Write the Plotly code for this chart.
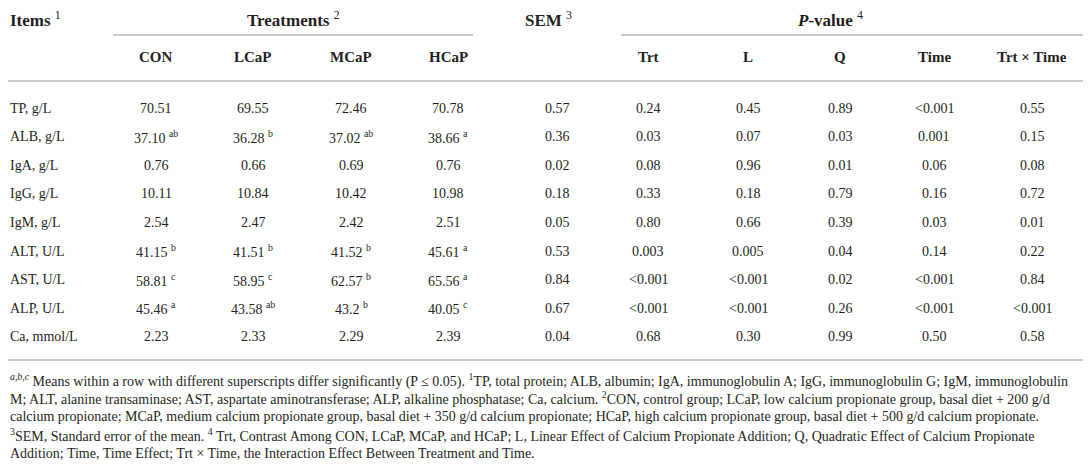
import plotly.graph_objects as go

# ---- table data ----
items = ["TP, g/L", "ALB, g/L", "IgA, g/L", "IgG, g/L", "IgM, g/L",
         "ALT, U/L", "AST, U/L", "ALP, U/L", "Ca, mmol/L"]

con = ["70.51", "37.10", "0.76", "10.11", "2.54", "41.15", "58.81", "45.46", "2.23"]
con_sup = ["", "ab", "", "", "", "b", "c", "a", ""]
lcap = ["69.55", "36.28", "0.66", "10.84", "2.47", "41.51", "58.95", "43.58", "2.33"]
lcap_sup = ["", "b", "", "", "", "b", "c", "ab", ""]
mcap = ["72.46", "37.02", "0.69", "10.42", "2.42", "41.52", "62.57", "43.2", "2.29"]
mcap_sup = ["", "ab", "", "", "", "b", "b", "b", ""]
hcap = ["70.78", "38.66", "0.76", "10.98", "2.51", "45.61", "65.56", "40.05", "2.39"]
hcap_sup = ["", "a", "", "", "", "a", "a", "c", ""]

sem = ["0.57", "0.36", "0.02", "0.18", "0.05", "0.53", "0.84", "0.67", "0.04"]

p_trt = ["0.24", "0.03", "0.08", "0.33", "0.80", "0.003", "<0.001", "<0.001", "0.68"]
p_l = ["0.45", "0.07", "0.96", "0.18", "0.66", "0.005", "<0.001", "<0.001", "0.30"]
p_q = ["0.89", "0.03", "0.01", "0.79", "0.39", "0.04", "0.02", "0.26", "0.99"]
p_time = ["<0.001", "0.001", "0.06", "0.16", "0.03", "0.14", "<0.001", "<0.001", "0.50"]
p_trt_time = ["0.55", "0.15", "0.08", "0.72", "0.01", "0.22", "0.84", "<0.001", "0.58"]

sub_headers = ["CON", "LCaP", "MCaP", "HCaP", "Trt", "L", "Q", "Time", "Trt × Time"]

footnotes = [
    "<sup><i>a,b,c</i></sup> Means within a row with different superscripts differ significantly (P ≤ 0.05). "
    "<sup>1</sup>TP, total protein; ALB, albumin; IgA, immunoglobulin A; IgG, immunoglobulin G; IgM, immunoglobulin",
    "M; ALT, alanine transaminase; AST, aspartate aminotransferase; ALP, alkaline phosphatase; Ca, calcium. "
    "<sup>2</sup>CON, control group; LCaP, low calcium propionate group, basal diet + 200 g/d",
    "calcium propionate; MCaP, medium calcium propionate group, basal diet + 350 g/d calcium propionate; "
    "HCaP, high calcium propionate group, basal diet + 500 g/d calcium propionate.",
    "<sup>3</sup>SEM, Standard error of the mean. <sup>4</sup> Trt, Contrast Among CON, LCaP, MCaP, and HCaP; "
    "L, Linear Effect of Calcium Propionate Addition; Q, Quadratic Effect of Calcium Propionate",
    "Addition; Time, Time Effect; Trt × Time, the Interaction Effect Between Treatment and Time.",
]

# ---- layout constants (page pixels; page body has an 8px margin) ----
W, H = 1091, 473
PAD = 8
FONT = "Liberation Serif"
TXT = "#231f20"
RULE = "#c9c9c9"
LEFT = 9
col_x = [156, 253, 351, 448, 557, 648, 748, 840, 934, 1032]
row_y0, row_dy = 108, 28.6
foot_y0, foot_dy = 380, 18.3

fig = go.Figure()
fig.add_trace(go.Scatter(x=[PAD, W], y=[PAD, H], mode="markers",
                         marker=dict(opacity=0), hoverinfo="skip"))


def txt(x, y, s, size=14, anchor="center"):
    fig.add_annotation(x=x, y=y, xref="x", yref="y", text=s, showarrow=False,
                       xanchor=anchor, yanchor="middle", borderpad=0,
                       font=dict(family=FONT, size=size, color=TXT))


# header row 1
txt(LEFT, 19, "<b>Items</b> <sup>1</sup>", size=17, anchor="left")
txt(293, 19, "<b>Treatments</b> <sup>2</sup>", size=17)
txt(548, 19, "<b>SEM</b> <sup>3</sup>", size=17)
txt(830, 19, "<b><i>P</i>-value</b> <sup>4</sup>", size=17)

# header row 2
sub_cols = col_x[0:4] + col_x[5:10]
for x, s in zip(sub_cols, sub_headers):
    txt(x, 57, "<b>" + s + "</b>", size=15)


# body
def cell(v, sp):
    return v + (" <sup>" + sp + "</sup>" if sp else "")


columns = [
    [cell(v, s) for v, s in zip(con, con_sup)],
    [cell(v, s) for v, s in zip(lcap, lcap_sup)],
    [cell(v, s) for v, s in zip(mcap, mcap_sup)],
    [cell(v, s) for v, s in zip(hcap, hcap_sup)],
    sem, p_trt, p_l, p_q, p_time, p_trt_time,
]

for i, name in enumerate(items):
    y = row_y0 + i * row_dy
    txt(LEFT, y, name, anchor="left")
    for x, col in zip(col_x, columns):
        txt(x, y, col[i])

# footnotes
for i, line in enumerate(footnotes):
    txt(LEFT, foot_y0 + i * foot_dy, line, size=14, anchor="left")

# rules
rules = [(113, 473, 35), (621, W, 35), (PAD, W, 81), (PAD, W, 360)]
for x0, x1, y in rules:
    fig.add_shape(type="line", x0=x0, x1=x1, y0=y, y1=y, xref="x", yref="y",
                  line=dict(color=RULE, width=2))

fig.update_layout(
    width=W - PAD, height=H - PAD, margin=dict(l=0, r=0, t=0, b=0),
    paper_bgcolor="white", plot_bgcolor="white", showlegend=False,
    xaxis=dict(range=[PAD, W], visible=False, fixedrange=True),
    yaxis=dict(range=[H, PAD], visible=False, fixedrange=True),
)

fig.write_html("out.html")
